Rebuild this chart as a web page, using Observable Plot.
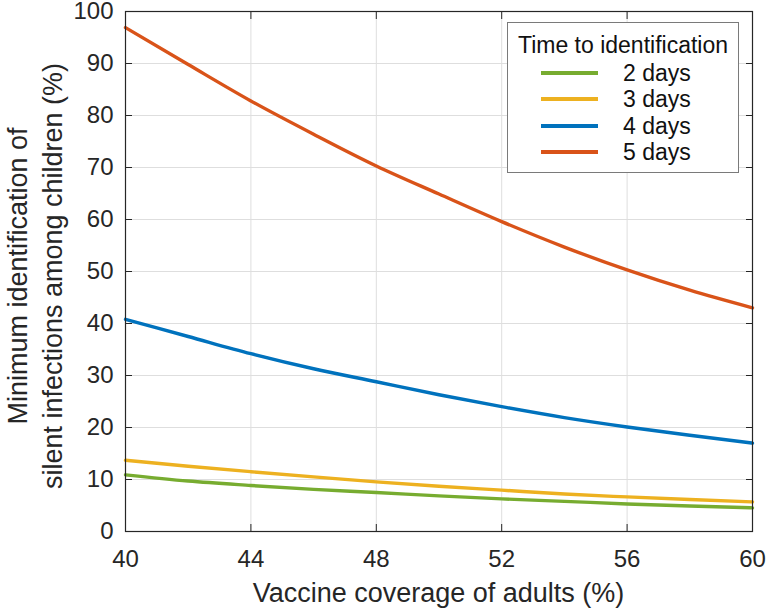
<!DOCTYPE html>
<html>
<head>
<meta charset="utf-8">
<script src="https://cdn.jsdelivr.net/npm/d3@7"></script>
<script src="https://cdn.jsdelivr.net/npm/@observablehq/plot@0.6"></script>
<style>
  html, body { margin: 0; padding: 0; background: #fff; }
  #wrap { position: relative; width: 768px; height: 610px; font-family: "Liberation Sans", Arial, Helvetica, sans-serif; }
  #legend { position: absolute; left: 507px; top: 22px; width: 232px; height: 151px; border: 1px solid #7a7a7a; background: #fff; box-sizing: border-box; color: #111; }
  #legend .title { position: absolute; left: 0; width: 100%; text-align: center; font-size: 23px; line-height: 26px; white-space: nowrap; }
  #legend .row { position: absolute; left: 0; height: 26px; width: 100%; }
  #legend .sw { position: absolute; left: 33px; top: 11px; width: 57px; height: 4px; }
  #legend .lab { position: absolute; left: 115px; top: 0; font-size: 23px; line-height: 26px; white-space: nowrap; }
</style>
</head>
<body>
<div id="wrap"></div>
<script>
const coverage = [40, 42, 44, 46, 48, 50, 52, 54, 56, 58, 60];
const days2 = [10.9, 9.7, 8.85, 8.1, 7.5, 6.85, 6.27, 5.8, 5.3, 4.9, 4.55];
const days3 = [13.7, 12.55, 11.5, 10.5, 9.55, 8.7, 7.95, 7.2, 6.65, 6.15, 5.7];
const days4 = [40.8, 37.5, 34.2, 31.3, 28.8, 26.3, 24.0, 21.9, 20.1, 18.5, 17.0];
const days5 = [96.9, 89.8, 82.8, 76.4, 70.3, 64.9, 59.6, 54.7, 50.3, 46.4, 43.0];
const seriesNames = ["2 days", "3 days", "4 days", "5 days"];
const seriesColors = ["#77AC30", "#EDB120", "#0072BD", "#D95319"];
const xTicks = [40, 44, 48, 52, 56, 60];
const yTicks = [0, 10, 20, 30, 40, 50, 60, 70, 80, 90, 100];
const xLabel = "Vaccine coverage of adults (%)";
const yLabelLines = ["Minimum identification of", "silent infections among children (%)"];
const legendTitle = "Time to identification";

const seriesValues = [days2, days3, days4, days5];
const data = [];
seriesValues.forEach((vals, i) => {
  vals.forEach((v, j) => data.push({series: seriesNames[i], x: coverage[j], y: v}));
});

const axisColor = "#262626";
const chart = Plot.plot({
  width: 768,
  height: 610,
  marginLeft: 125,
  marginRight: 16,
  marginTop: 11,
  marginBottom: 79,
  style: { fontFamily: "Liberation Sans, Arial, Helvetica, sans-serif", fontSize: "24px", color: axisColor, background: "white", overflow: "visible" },
  x: { domain: [40, 60], ticks: xTicks },
  y: { domain: [0, 100], ticks: yTicks },
  color: { domain: seriesNames, range: seriesColors },
  marks: [
    Plot.gridX(xTicks, { stroke: "#dedede", strokeOpacity: 1, strokeWidth: 1 }),
    Plot.gridY(yTicks, { stroke: "#dedede", strokeOpacity: 1, strokeWidth: 1 }),
    Plot.line(data, { x: "x", y: "y", stroke: "series", z: "series", strokeWidth: 3.4, curve: "monotone-x" }),
    Plot.frame({ stroke: axisColor, strokeWidth: 1.2 }),
    Plot.axisX(xTicks, { anchor: "bottom", tickSize: -7, text: null, label: null, stroke: axisColor }),
    Plot.axisX(xTicks, { anchor: "top", tickSize: -7, text: null, label: null, stroke: axisColor }),
    Plot.axisY(yTicks, { anchor: "left", tickSize: -7, text: null, label: null, stroke: axisColor }),
    Plot.axisY(yTicks, { anchor: "right", tickSize: -7, text: null, label: null, stroke: axisColor }),
    Plot.axisX(xTicks, { anchor: "bottom", tickSize: 0, tickPadding: 18, fontSize: 24, fill: axisColor, label: null }),
    Plot.axisY(yTicks, { anchor: "left", tickSize: 0, tickPadding: 12, fontSize: 24, fill: axisColor, label: null })
  ]
});

const wrap = document.getElementById("wrap");
wrap.appendChild(chart);

const svg = d3.select(chart);
// x label
svg.append("text")
  .attr("x", 438.5)
  .attr("y", 602)
  .attr("text-anchor", "middle")
  .attr("fill", axisColor)
  .attr("font-size", "27px")
  .text(xLabel);

// y label (two lines, rotated)
const yl = svg.append("text")
  .attr("transform", "translate(0,276) rotate(-90)")
  .attr("text-anchor", "middle")
  .attr("fill", axisColor)
  .attr("font-size", "27px");
yl.append("tspan").attr("x", 0).attr("y", 27).text(yLabelLines[0]);
yl.append("tspan").attr("x", 0).attr("y", 62).text(yLabelLines[1]);

// legend
const legend = document.createElement("div");
legend.id = "legend";
const t = document.createElement("div");
t.className = "title";
t.style.top = "9px";
t.textContent = legendTitle;
legend.appendChild(t);
seriesNames.forEach((name, i) => {
  const row = document.createElement("div");
  row.className = "row";
  row.style.top = (37 + i * 26.3) + "px";
  const sw = document.createElement("div");
  sw.className = "sw";
  sw.style.background = seriesColors[i];
  const lab = document.createElement("span");
  lab.className = "lab";
  lab.textContent = name;
  row.appendChild(sw);
  row.appendChild(lab);
  legend.appendChild(row);
});
wrap.appendChild(legend);
</script>
</body>
</html>
